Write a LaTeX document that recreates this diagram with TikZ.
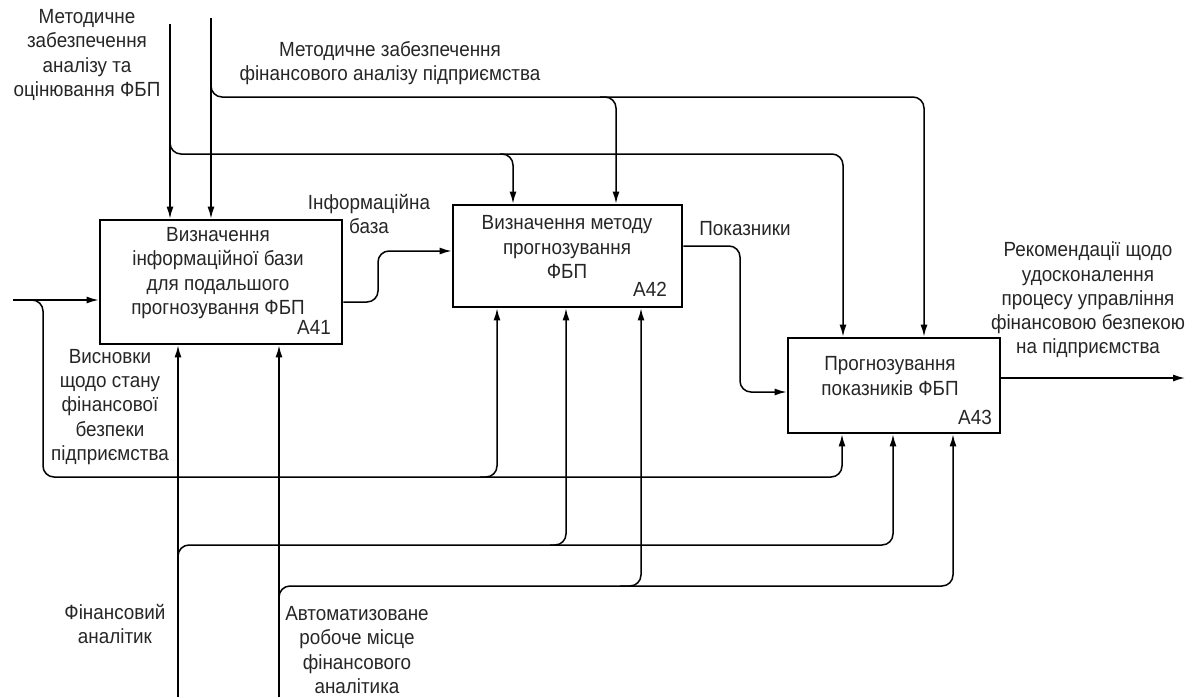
\documentclass[tikz,border=0pt]{standalone}
\usepackage{fontspec}
\setmainfont{Liberation Sans}[FakeStretch=0.92]
\usetikzlibrary{arrows.meta}
\begin{document}
\begin{tikzpicture}[x=1pt,y=-1pt,
  box/.style={draw, line width=2.8pt, inner sep=0pt},
  txt/.style={align=center, font=\fontsize{20.5}{24.2}\selectfont, inner sep=0pt, text=black!85},
  conn/.style={line width=1.5pt, rounded corners=11pt},
  arr/.style={conn, -{Latex[length=12pt,width=7pt]}}]
\useasboundingbox (0,0) rectangle (1195,697);

% boxes
\node[box, minimum width=242pt, minimum height=124pt] (A41) at (221,282) {};
\node[box, minimum width=229pt, minimum height=102pt] (A42) at (567.5,256) {};
\node[box, minimum width=212pt, minimum height=95pt] (A43) at (894,385.5) {};

\node[txt] (A41t) at (218,273) {Визначення\\інформаційної бази\\для подальшого\\прогнозування ФБП};
\node[txt] (A41id) at (314,327) {A41};
\node[txt] (A42t) at (567,247) {Визначення методу\\прогнозування\\ФБП};
\node[txt] (A42id) at (650,289) {A42};
\node[txt] (A43t) at (890,376) {Прогнозування\\показників ФБП};
\node[txt] (A43id) at (975,417) {A43};

% labels
\node[txt] (L1) at (87,55) {Методичне\\забезпечення\\аналізу та\\оцінювання ФБП};
\node[txt] (L2) at (390,63) {Методичне забезпечення\\фінансового аналізу підприємства};
\node[txt] (info) at (369,214) {Інформаційна\\база};
\node[txt] (pok) at (745,229) {Показники};
\node[txt] (rec) at (1088,300) {Рекомендації щодо\\удосконалення\\процесу управління\\фінансовою безпекою\\на підприємства};
\node[txt] (vis) at (110,407) {Висновки\\щодо стану\\фінансової\\безпеки\\підприємства};
\node[txt] (fin) at (115,624) {Фінансовий\\аналітик};
\node[txt] (arm) at (357,650) {Автоматизоване\\робоче місце\\фінансового\\аналітика};

% free ends
\coordinate (t1) at (170,24);
\coordinate (t2) at (211,18);
\coordinate (in) at (13,300);
\coordinate (out) at (1185,378);
\coordinate (b1) at (178,697);
\coordinate (b2) at (279,697);

% controls from top
\draw[arr] (t1) -- (t1 |- A41.north);
\draw[arr] (170,140) -- (170,154) -- (513,154) -- (A42.north -| 513,0);
\draw[arr] (500,154) -- (843,154) -- (A43.north -| 843,0);
\draw[arr] (t2) -- (t2 |- A41.north);
\draw[arr] (211,85) -- (211,97) -- (616,97) -- (A42.north -| 616,0);
\draw[arr] (600,97) -- (924,97) -- (A43.north -| 924,0);

% input from left
\draw[arr] (in) -- (in -| A41.west);
\draw[arr] (25,300) -- (43,300) -- (43,477) -- (497,477) -- (A42.south -| 497,0);
\draw[arr] (480,477) -- (842,477) -- (A43.south -| 842,0);

% mechanisms from bottom
\draw[arr] (b1) -- (b1 |- A41.south);
\draw[arr] (178,560) -- (178,545) -- (566,545) -- (A42.south -| 566,0);
\draw[arr] (550,545) -- (893,545) -- (A43.south -| 893,0);
\draw[arr] (b2) -- (b2 |- A41.south);
\draw[arr] (279,600) -- (279,586) -- (641,586) -- (A42.south -| 641,0);
\draw[arr] (620,586) -- (953,586) -- (A43.south -| 953,0);

% flows between boxes
\draw[arr] (A41.east |- 0,302) -- (378,302) -- (378,251) -- (A42.west |- 0,251);
\draw[arr] (A42.east |- 0,246) -- (740,246) -- (740,392) -- (A43.west |- 0,392);
\draw[arr] (A43.east |- out) -- (out);
\end{tikzpicture}
\end{document}
